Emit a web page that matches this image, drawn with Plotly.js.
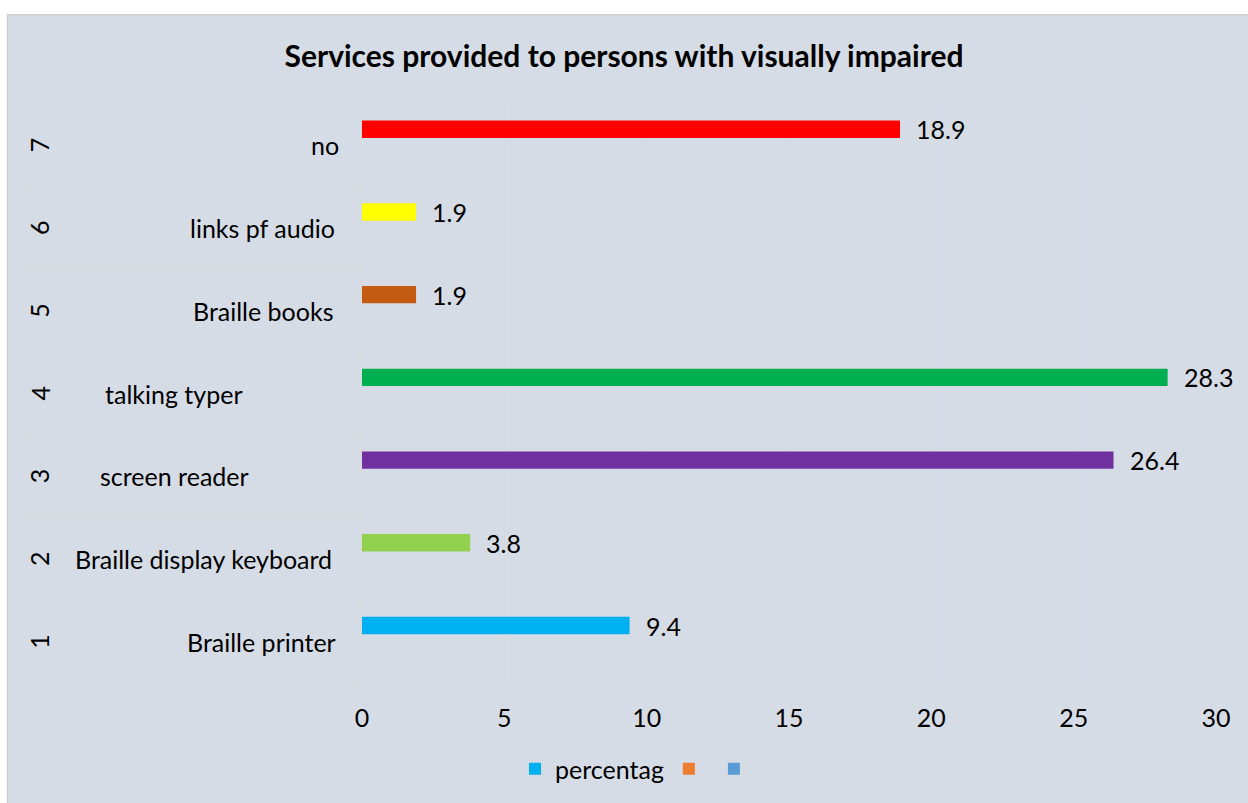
<!DOCTYPE html>
<html>
<head>
<meta charset="utf-8">
<script src="https://cdn.plot.ly/plotly-3.0.1.min.js"></script>
<style>
  html, body { margin: 0; padding: 0; background: #ffffff; }
  #chart { width: 1248px; height: 803px; }
</style>
</head>
<body>
<div id="chart"></div>
<script>
// ---- data ----
const categoryNumbers = ["1", "2", "3", "4", "5", "6", "7"];
const categoryLabels = ["Braille printer", "Braille display keyboard", "screen reader", "talking typer", "Braille books", "links pf audio", "no"];
const percentages = [9.4, 3.8, 26.4, 28.3, 1.9, 1.9, 18.9];
const barColors = ["#00B0F0", "#92D050", "#7030A0", "#00B050", "#C55A11", "#FFFF00", "#FF0000"];
const seriesNames = ["percentag", "", ""];
const legendColors = ["#00B0F0", "#ED7D31", "#5B9BD5"];
const xTickValues = [0, 5, 10, 15, 20, 25, 30];

// ---- layout helpers (pixel geometry of the plot area) ----
const W = 1248, H = 803;
const L = 362, R = 32, T = 104, B = 119;
const PW = W - L - R, PH = H - T - B;
const px2paperX = p => (p - L) / PW;
const px2paperY = p => (H - B - p) / PH;

const FONT = "Lato, 'Open Sans', sans-serif";
const FS = 25;
const catPos = categoryNumbers.map(Number);

// per-label placement (layout only): anchor & pixel x
const labelPlacement = [
  {anchor: "right", px: 338},
  {anchor: "right", px: 334},
  {anchor: "center", px: 174.5},
  {anchor: "center", px: 174},
  {anchor: "right", px: 336},
  {anchor: "right", px: 337},
  {anchor: "right", px: 341}
];

const traces = [
  {
    type: "bar",
    orientation: "h",
    name: seriesNames[0],
    x: percentages,
    y: catPos,
    width: 0.21,
    offset: 0.09,
    marker: {color: barColors, line: {width: 0}},
    hoverinfo: "none"
  },
  {
    type: "bar", orientation: "h", name: seriesNames[1],
    x: catPos.map(() => null), y: catPos,
    marker: {color: legendColors[1]}, hoverinfo: "none"
  },
  {
    type: "bar", orientation: "h", name: seriesNames[2],
    x: catPos.map(() => null), y: catPos,
    marker: {color: legendColors[2]}, hoverinfo: "none"
  }
];

const annotations = [];
// outer category numbers (rotated)
catPos.forEach((c, i) => {
  annotations.push({
    xref: "paper", yref: "y", x: px2paperX(39), y: c,
    text: categoryNumbers[i], showarrow: false, textangle: -90,
    xanchor: "center", yanchor: "middle",
    font: {family: FONT, size: FS, color: "#000000"}
  });
});
// inner category labels
catPos.forEach((c, i) => {
  annotations.push({
    xref: "paper", yref: "y", x: px2paperX(labelPlacement[i].px), y: c,
    text: categoryLabels[i], showarrow: false,
    xanchor: labelPlacement[i].anchor, yanchor: "middle",
    font: {family: FONT, size: FS, color: "#000000"}
  });
});
// data labels
catPos.forEach((c, i) => {
  annotations.push({
    xref: "x", yref: "y", x: percentages[i], y: c + 0.09 + 0.105,
    text: percentages[i].toFixed(1), showarrow: false,
    xanchor: "left", yanchor: "middle", xshift: 14,
    font: {family: FONT, size: FS, color: "#000000"}
  });
});

const shapes = [
  // chart area background
  {
    type: "rect", layer: "below", xref: "paper", yref: "paper",
    x0: px2paperX(7.5), x1: px2paperX(1260), y0: px2paperY(820), y1: px2paperY(14.5),
    fillcolor: "#D6DCE5", line: {color: "#D0D0D0", width: 1.5}
  }
];
// category table row lines
for (let k = 0; k <= catPos.length; k++) {
  shapes.push({
    type: "line", layer: "below", xref: "paper", yref: "paper",
    x0: px2paperX(22), x1: 0, y0: k / catPos.length, y1: k / catPos.length,
    line: {color: "#D9D9D9", width: 1.5}
  });
}

const layout = {
  width: W, height: H, autosize: false,
  margin: {l: L, r: R, t: T, b: B, pad: 0},
  paper_bgcolor: "#ffffff",
  plot_bgcolor: "rgba(0,0,0,0)",
  barmode: "overlay",
  title: {
    text: "<b>Services provided to persons with visually impaired</b>",
    xref: "container", yref: "container", x: 0.5, y: 1 - 56 / H,
    xanchor: "center", yanchor: "middle",
    font: {family: FONT, size: 30, color: "#000000"}
  },
  xaxis: {
    range: [0, 30], tickvals: xTickValues, ticktext: xTickValues.map(String),
    showgrid: true, gridcolor: "#D9D9D9", gridwidth: 1,
    zeroline: false, showline: false, ticks: "",
    ticklabelstandoff: 18,
    tickfont: {family: FONT, size: FS, color: "#000000"},
    fixedrange: true
  },
  yaxis: {
    range: [0.5, 7.5], showticklabels: false, showgrid: false,
    zeroline: false, showline: true, linecolor: "#D9D9D9", linewidth: 1.5,
    ticks: "", fixedrange: true
  },
  showlegend: true,
  legend: {
    orientation: "h", x: px2paperX(637), xanchor: "center",
    y: px2paperY(769), yanchor: "middle",
    bgcolor: "rgba(0,0,0,0)", traceorder: "normal",
    font: {family: FONT, size: FS, color: "#000000"}
  },
  annotations: annotations,
  shapes: shapes
};

Plotly.newPlot("chart", traces, layout, {displayModeBar: false, staticPlot: true});
</script>
</body>
</html>
